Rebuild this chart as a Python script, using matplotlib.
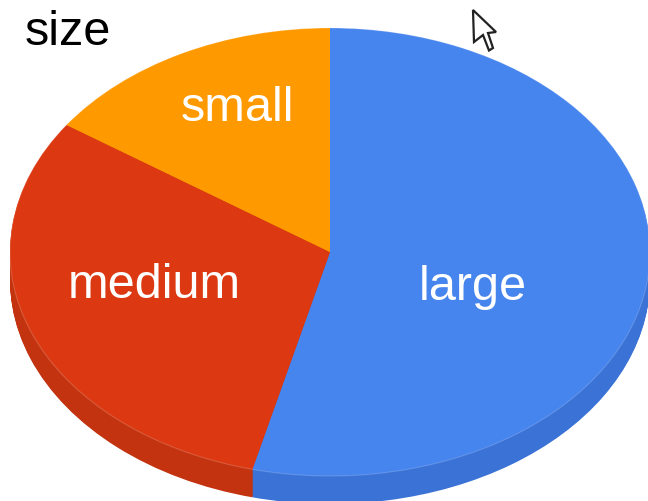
import numpy as np
import matplotlib
matplotlib.use('Agg')
import matplotlib.pyplot as plt
from matplotlib.patches import Polygon, Ellipse

labels = ['large', 'medium', 'small']
values = [53.9, 30.7, 15.4]
colors = ['#4684ee', '#dc3912', '#ff9900']
side_colors = ['#3a72d6', '#c3330f', '#e08700']
title = 'size'

plt.rcParams['font.family'] = ['Liberation Sans', 'DejaVu Sans']

W, H = 648, 501
cx, cy, rx, ry = 330, 252, 320, 224
depth = 28

fig = plt.figure(figsize=(W / 100, H / 100), dpi=100)
ax = fig.add_axes([0, 0, 1, 1])

# side of the pie: same pie stacked downwards, top pie goes last
for off in np.linspace(depth / ry, 0.005, 30):
    ax.pie(values, colors=side_colors, startangle=90, counterclock=False,
           center=(0, -off), wedgeprops={'linewidth': 0})
ax.pie(values, colors=colors, startangle=90, counterclock=False,
       wedgeprops={'linewidth': 0})
ax.add_patch(Ellipse((0, 0), 2, 2, fill=False, ec='white', lw=0.8, alpha=0.18))

# pie() forces equal aspect, the ellipse comes from the limits
ax.set_aspect('auto')
ax.set_xlim(-cx / rx, (W - cx) / rx)
ax.set_ylim((cy - H) / ry, cy / ry)

# overlay in pixels for texts and the mouse pointer
over = fig.add_axes([0, 0, 1, 1])
over.set_xlim(0, W)
over.set_ylim(H, 0)
over.axis('off')

over.text(25, 32, title, fontsize=35, color='black', va='center', ha='left')
over.text(473, 287, labels[0], fontsize=35, color='white', va='center', ha='center')
over.text(154, 285, labels[1], fontsize=35, color='white', va='center', ha='center')
over.text(237, 108, labels[2], fontsize=35, color='white', va='center', ha='center')

cursor = [(473, 10), (496, 32), (488, 33), (493, 48), (489, 50.5), (483, 35), (474, 42)]
over.add_patch(Polygon(cursor, closed=True, fc='white', ec='#222222', lw=1.6))

fig.savefig('out.png', dpi=100)
